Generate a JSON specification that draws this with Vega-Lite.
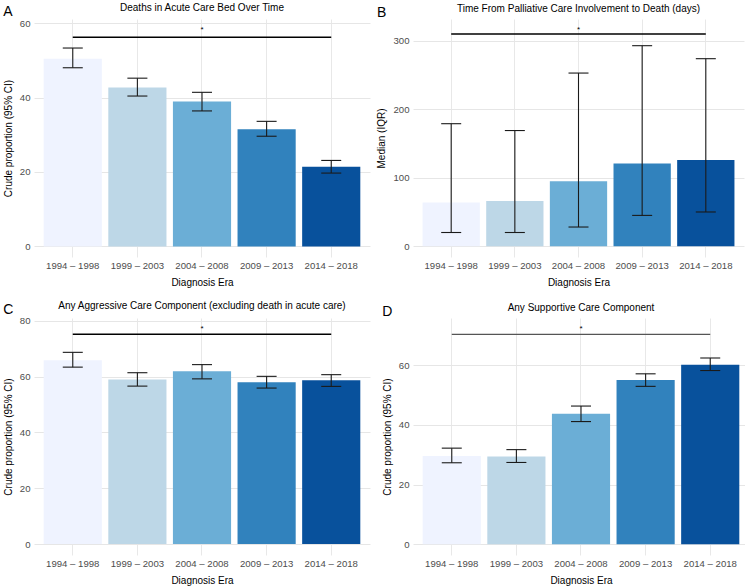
{
  "$schema": "https://vega.github.io/schema/vega-lite/v6.json",
  "padding": {"left": 3, "top": 3, "right": 0, "bottom": 0},
  "datasets": {
    "bars": [
      {"panel": "A", "era": "1994 – 1998", "value": 50.4, "lo": 48.0, "hi": 53.3},
      {"panel": "A", "era": "1999 – 2003", "value": 42.7, "lo": 40.4, "hi": 45.2},
      {"panel": "A", "era": "2004 – 2008", "value": 38.9, "lo": 36.4, "hi": 41.4},
      {"panel": "A", "era": "2009 – 2013", "value": 31.5, "lo": 29.6, "hi": 33.6},
      {"panel": "A", "era": "2014 – 2018", "value": 21.4, "lo": 19.7, "hi": 23.1},
      {"panel": "B", "era": "1994 – 1998", "value": 64, "lo": 20, "hi": 179},
      {"panel": "B", "era": "1999 – 2003", "value": 66, "lo": 20, "hi": 169},
      {"panel": "B", "era": "2004 – 2008", "value": 95, "lo": 28, "hi": 253},
      {"panel": "B", "era": "2009 – 2013", "value": 121, "lo": 45, "hi": 293},
      {"panel": "B", "era": "2014 – 2018", "value": 126, "lo": 50, "hi": 274},
      {"panel": "C", "era": "1994 – 1998", "value": 65.9, "lo": 63.4, "hi": 68.7},
      {"panel": "C", "era": "1999 – 2003", "value": 59.0, "lo": 56.6, "hi": 61.4},
      {"panel": "C", "era": "2004 – 2008", "value": 61.9, "lo": 59.2, "hi": 64.3},
      {"panel": "C", "era": "2009 – 2013", "value": 58.0, "lo": 55.9, "hi": 60.1},
      {"panel": "C", "era": "2014 – 2018", "value": 58.7, "lo": 56.5, "hi": 60.7},
      {"panel": "D", "era": "1994 – 1998", "value": 29.6, "lo": 27.3, "hi": 32.2},
      {"panel": "D", "era": "1999 – 2003", "value": 29.4, "lo": 27.4, "hi": 31.7},
      {"panel": "D", "era": "2004 – 2008", "value": 43.7, "lo": 41.1, "hi": 46.3},
      {"panel": "D", "era": "2009 – 2013", "value": 55.0, "lo": 52.9, "hi": 57.1},
      {"panel": "D", "era": "2014 – 2018", "value": 60.1, "lo": 58.2, "hi": 62.4}
    ],
    "sig": [
      {"panel": "A", "from": "1994 – 1998", "to": "2014 – 2018", "mid": "2004 – 2008", "y": 56.2, "star_y": 58.1, "label": "*"},
      {"panel": "B", "from": "1994 – 1998", "to": "2014 – 2018", "mid": "2004 – 2008", "y": 310, "star_y": 316, "label": "*"},
      {"panel": "C", "from": "1994 – 1998", "to": "2014 – 2018", "mid": "2004 – 2008", "y": 75.2, "star_y": 77, "label": "*"},
      {"panel": "D", "from": "1994 – 1998", "to": "2014 – 2018", "mid": "2004 – 2008", "y": 70.3, "star_y": 72, "label": "*"}
    ]
  },
  "columns": 2,
  "spacing": {"row": 12, "column": 6},
  "concat": [
    {
      "title": {"text": "A", "anchor": "start", "frame": "bounds", "fontSize": 14, "fontWeight": "normal", "offset": -16},
      "vconcat": [{
        "width": 336, "height": 238,
        "title": {"text": "Deaths in Acute Care Bed Over Time"},
        "layer": [
          {"data": {"name": "bars"}, "transform": [{"filter": "datum.panel === 'A'"}],
           "mark": {"type": "bar"},
           "encoding": {
             "x": {"field": "era", "type": "nominal", "sort": null, "scale": {"paddingInner": 0.1, "paddingOuter": 0.15}, "axis": {"title": "Diagnosis Era"}},
             "y": {"field": "value", "type": "quantitative", "scale": {"domain": [-2.85, 61.1], "nice": false, "zero": false},
                   "axis": {"title": "Crude proportion (95% CI)", "values": [0, 10, 20, 30, 40, 50, 60], "labelExpr": "datum.value % 20 === 0 ? datum.label : ''",
                            "gridColor": {"condition": {"test": "datum.value % 20 === 0", "value": "#E6E6E6"}, "value": "#F2F2F2"}}},
             "y2": {"datum": 0},
             "color": {"field": "era", "type": "nominal", "sort": null, "scale": {"range": ["#EFF3FF", "#BDD7E7", "#6BAED6", "#3182BD", "#08519C"]}, "legend": null}
           }},
          {"data": {"name": "bars"}, "transform": [{"filter": "datum.panel === 'A'"}],
           "mark": {"type": "rule", "color": "#1A1A1A", "strokeWidth": 1.1},
           "encoding": {"x": {"field": "era", "type": "nominal", "sort": null}, "y": {"field": "lo", "type": "quantitative"}, "y2": {"field": "hi"}}},
          {"data": {"name": "bars"}, "transform": [{"filter": "datum.panel === 'A'"}],
           "mark": {"type": "tick", "color": "#1A1A1A", "size": 20, "thickness": 1.1, "opacity": 1},
           "encoding": {"x": {"field": "era", "type": "nominal", "sort": null}, "y": {"field": "lo", "type": "quantitative"}}},
          {"data": {"name": "bars"}, "transform": [{"filter": "datum.panel === 'A'"}],
           "mark": {"type": "tick", "color": "#1A1A1A", "size": 20, "thickness": 1.1, "opacity": 1},
           "encoding": {"x": {"field": "era", "type": "nominal", "sort": null}, "y": {"field": "hi", "type": "quantitative"}}},
          {"data": {"name": "sig"}, "transform": [{"filter": "datum.panel === 'A'"}],
           "mark": {"type": "rule", "color": "#000000", "strokeWidth": 1.4},
           "encoding": {"x": {"field": "from", "type": "nominal"}, "x2": {"field": "to"}, "y": {"field": "y", "type": "quantitative"}}},
          {"data": {"name": "sig"}, "transform": [{"filter": "datum.panel === 'A'"}],
           "mark": {"type": "text", "fontSize": 8, "baseline": "middle", "color": "#000000"},
           "encoding": {"x": {"field": "mid", "type": "nominal"}, "y": {"field": "star_y", "type": "quantitative"}, "text": {"field": "label"}}}
        ]
      }]
    },
    {
      "title": {"text": "B", "anchor": "start", "frame": "bounds", "fontSize": 14, "fontWeight": "normal", "offset": -16},
      "vconcat": [{
        "width": 331, "height": 238,
        "title": {"text": "Time From Palliative Care Involvement to Death (days)"},
        "layer": [
          {"data": {"name": "bars"}, "transform": [{"filter": "datum.panel === 'B'"}],
           "mark": {"type": "bar"},
           "encoding": {
             "x": {"field": "era", "type": "nominal", "sort": null, "scale": {"paddingInner": 0.1, "paddingOuter": 0.15}, "axis": {"title": "Diagnosis Era"}},
             "y": {"field": "value", "type": "quantitative", "scale": {"domain": [-15.8, 332], "nice": false, "zero": false},
                   "axis": {"title": "Median (IQR)", "values": [0, 50, 100, 150, 200, 250, 300], "labelExpr": "datum.value % 100 === 0 ? datum.label : ''",
                            "gridColor": {"condition": {"test": "datum.value % 100 === 0", "value": "#E6E6E6"}, "value": "#F2F2F2"}}},
             "y2": {"datum": 0},
             "color": {"field": "era", "type": "nominal", "sort": null, "scale": {"range": ["#EFF3FF", "#BDD7E7", "#6BAED6", "#3182BD", "#08519C"]}, "legend": null}
           }},
          {"data": {"name": "bars"}, "transform": [{"filter": "datum.panel === 'B'"}],
           "mark": {"type": "rule", "color": "#1A1A1A", "strokeWidth": 1.1},
           "encoding": {"x": {"field": "era", "type": "nominal", "sort": null}, "y": {"field": "lo", "type": "quantitative"}, "y2": {"field": "hi"}}},
          {"data": {"name": "bars"}, "transform": [{"filter": "datum.panel === 'B'"}],
           "mark": {"type": "tick", "color": "#1A1A1A", "size": 20, "thickness": 1.1, "opacity": 1},
           "encoding": {"x": {"field": "era", "type": "nominal", "sort": null}, "y": {"field": "lo", "type": "quantitative"}}},
          {"data": {"name": "bars"}, "transform": [{"filter": "datum.panel === 'B'"}],
           "mark": {"type": "tick", "color": "#1A1A1A", "size": 20, "thickness": 1.1, "opacity": 1},
           "encoding": {"x": {"field": "era", "type": "nominal", "sort": null}, "y": {"field": "hi", "type": "quantitative"}}},
          {"data": {"name": "sig"}, "transform": [{"filter": "datum.panel === 'B'"}],
           "mark": {"type": "rule", "color": "#000000", "strokeWidth": 1.4},
           "encoding": {"x": {"field": "from", "type": "nominal"}, "x2": {"field": "to"}, "y": {"field": "y", "type": "quantitative"}}},
          {"data": {"name": "sig"}, "transform": [{"filter": "datum.panel === 'B'"}],
           "mark": {"type": "text", "fontSize": 8, "baseline": "middle", "color": "#000000"},
           "encoding": {"x": {"field": "mid", "type": "nominal"}, "y": {"field": "star_y", "type": "quantitative"}, "text": {"field": "label"}}}
        ]
      }]
    },
    {
      "title": {"text": "C", "anchor": "start", "frame": "bounds", "fontSize": 14, "fontWeight": "normal", "offset": -16},
      "vconcat": [{
        "width": 336, "height": 237,
        "title": {"text": "Any Aggressive Care Component (excluding death in acute care)"},
        "layer": [
          {"data": {"name": "bars"}, "transform": [{"filter": "datum.panel === 'C'"}],
           "mark": {"type": "bar"},
           "encoding": {
             "x": {"field": "era", "type": "nominal", "sort": null, "scale": {"paddingInner": 0.1, "paddingOuter": 0.15}, "axis": {"title": "Diagnosis Era"}},
             "y": {"field": "value", "type": "quantitative", "scale": {"domain": [-3.9, 81], "nice": false, "zero": false},
                   "axis": {"title": "Crude proportion (95% CI)", "values": [0, 10, 20, 30, 40, 50, 60, 70, 80], "labelExpr": "datum.value % 20 === 0 ? datum.label : ''",
                            "gridColor": {"condition": {"test": "datum.value % 20 === 0", "value": "#E6E6E6"}, "value": "#F2F2F2"}}},
             "y2": {"datum": 0},
             "color": {"field": "era", "type": "nominal", "sort": null, "scale": {"range": ["#EFF3FF", "#BDD7E7", "#6BAED6", "#3182BD", "#08519C"]}, "legend": null}
           }},
          {"data": {"name": "bars"}, "transform": [{"filter": "datum.panel === 'C'"}],
           "mark": {"type": "rule", "color": "#1A1A1A", "strokeWidth": 1.1},
           "encoding": {"x": {"field": "era", "type": "nominal", "sort": null}, "y": {"field": "lo", "type": "quantitative"}, "y2": {"field": "hi"}}},
          {"data": {"name": "bars"}, "transform": [{"filter": "datum.panel === 'C'"}],
           "mark": {"type": "tick", "color": "#1A1A1A", "size": 20, "thickness": 1.1, "opacity": 1},
           "encoding": {"x": {"field": "era", "type": "nominal", "sort": null}, "y": {"field": "lo", "type": "quantitative"}}},
          {"data": {"name": "bars"}, "transform": [{"filter": "datum.panel === 'C'"}],
           "mark": {"type": "tick", "color": "#1A1A1A", "size": 20, "thickness": 1.1, "opacity": 1},
           "encoding": {"x": {"field": "era", "type": "nominal", "sort": null}, "y": {"field": "hi", "type": "quantitative"}}},
          {"data": {"name": "sig"}, "transform": [{"filter": "datum.panel === 'C'"}],
           "mark": {"type": "rule", "color": "#000000", "strokeWidth": 1.4},
           "encoding": {"x": {"field": "from", "type": "nominal"}, "x2": {"field": "to"}, "y": {"field": "y", "type": "quantitative"}}},
          {"data": {"name": "sig"}, "transform": [{"filter": "datum.panel === 'C'"}],
           "mark": {"type": "text", "fontSize": 8, "baseline": "middle", "color": "#000000"},
           "encoding": {"x": {"field": "mid", "type": "nominal"}, "y": {"field": "star_y", "type": "quantitative"}, "text": {"field": "label"}}}
        ]
      }]
    },
    {
      "title": {"text": "D", "anchor": "start", "frame": "bounds", "fontSize": 14, "fontWeight": "normal", "offset": -16},
      "vconcat": [{
        "width": 336, "height": 237,
        "title": {"text": "Any Supportive Care Component"},
        "layer": [
          {"data": {"name": "bars"}, "transform": [{"filter": "datum.panel === 'D'"}],
           "mark": {"type": "bar"},
           "encoding": {
             "x": {"field": "era", "type": "nominal", "sort": null, "scale": {"paddingInner": 0.1, "paddingOuter": 0.15}, "axis": {"title": "Diagnosis Era"}},
             "y": {"field": "value", "type": "quantitative", "scale": {"domain": [-3.6, 75.8], "nice": false, "zero": false},
                   "axis": {"title": "Crude proportion (95% CI)", "values": [0, 10, 20, 30, 40, 50, 60, 70], "labelExpr": "datum.value % 20 === 0 ? datum.label : ''",
                            "gridColor": {"condition": {"test": "datum.value % 20 === 0", "value": "#E6E6E6"}, "value": "#F2F2F2"}}},
             "y2": {"datum": 0},
             "color": {"field": "era", "type": "nominal", "sort": null, "scale": {"range": ["#EFF3FF", "#BDD7E7", "#6BAED6", "#3182BD", "#08519C"]}, "legend": null}
           }},
          {"data": {"name": "bars"}, "transform": [{"filter": "datum.panel === 'D'"}],
           "mark": {"type": "rule", "color": "#1A1A1A", "strokeWidth": 1.1},
           "encoding": {"x": {"field": "era", "type": "nominal", "sort": null}, "y": {"field": "lo", "type": "quantitative"}, "y2": {"field": "hi"}}},
          {"data": {"name": "bars"}, "transform": [{"filter": "datum.panel === 'D'"}],
           "mark": {"type": "tick", "color": "#1A1A1A", "size": 20, "thickness": 1.1, "opacity": 1},
           "encoding": {"x": {"field": "era", "type": "nominal", "sort": null}, "y": {"field": "lo", "type": "quantitative"}}},
          {"data": {"name": "bars"}, "transform": [{"filter": "datum.panel === 'D'"}],
           "mark": {"type": "tick", "color": "#1A1A1A", "size": 20, "thickness": 1.1, "opacity": 1},
           "encoding": {"x": {"field": "era", "type": "nominal", "sort": null}, "y": {"field": "hi", "type": "quantitative"}}},
          {"data": {"name": "sig"}, "transform": [{"filter": "datum.panel === 'D'"}],
           "mark": {"type": "rule", "color": "#555555", "strokeWidth": 1.3},
           "encoding": {"x": {"field": "from", "type": "nominal"}, "x2": {"field": "to"}, "y": {"field": "y", "type": "quantitative"}}},
          {"data": {"name": "sig"}, "transform": [{"filter": "datum.panel === 'D'"}],
           "mark": {"type": "text", "fontSize": 8, "baseline": "middle", "color": "#000000"},
           "encoding": {"x": {"field": "mid", "type": "nominal"}, "y": {"field": "star_y", "type": "quantitative"}, "text": {"field": "label"}}}
        ]
      }]
    }
  ],
  "config": {
    "font": "Liberation Sans",
    "view": {"stroke": null},
    "title": {"fontSize": 10, "fontWeight": "normal", "color": "#000000", "anchor": "middle", "offset": 5, "font": "Liberation Sans"},
    "axis": {
      "labelFont": "Liberation Sans", "titleFont": "Liberation Sans",
      "labelFontSize": 9.6, "titleFontSize": 10, "titleFontWeight": "normal",
      "labelColor": "#4D4D4D", "titleColor": "#000000",
      "ticks": false, "domain": false, "grid": true,
      "gridColor": "#E8E8E8", "gridWidth": 1
    },
    "axisX": {"labelAngle": 0, "bandPosition": 0.5, "labelPadding": 3, "titlePadding": 8},
    "axisY": {"labelPadding": 4, "titlePadding": 6}
  }
}
